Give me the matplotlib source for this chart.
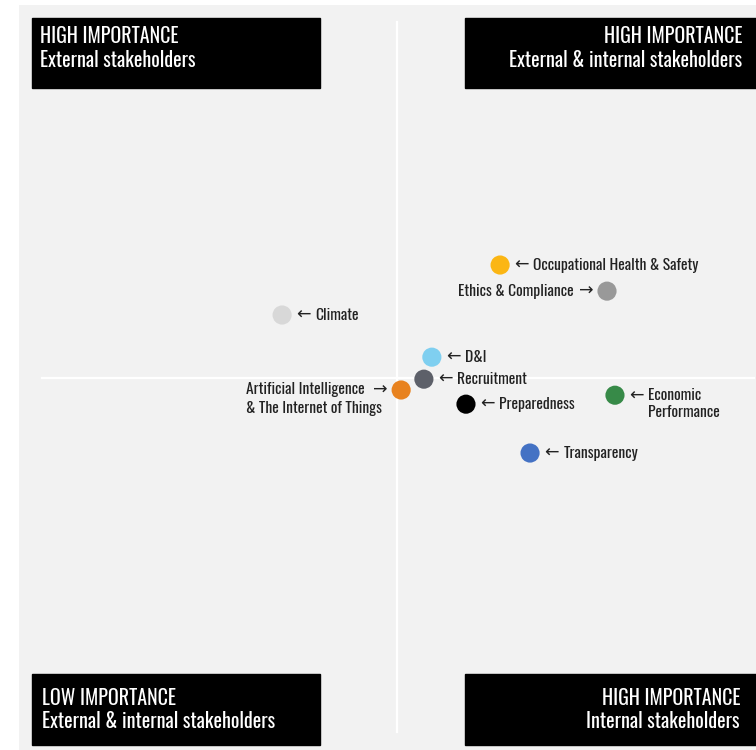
import matplotlib
matplotlib.use("Agg")
from matplotlib import pyplot as plt
from matplotlib.patches import Rectangle

plt.rcParams['font.family'] = ['Oswald', 'Barlow Condensed', 'DejaVu Sans']

# topic positions: x = internal importance, y = external importance (centre = 0)
topics = ["Occupational Health & Safety", "Ethics & Compliance", "Climate", "D&I",
          "Recruitment", "Artificial Intelligence\n& The Internet of Things",
          "Preparedness", "Economic\nPerformance", "Transparency"]
x_vals = [2.72, 5.54, -3.03, 0.92, 0.71, 0.11, 1.82, 5.75, 3.51]
y_vals = [3.03, 2.33, 1.69, 0.56, -0.03, -0.32, -0.70, -0.46, -2.01]
colors = ["#fbb614", "#999999", "#d8d8d8", "#7fcff0", "#5d6069", "#e8821f",
          "#000000", "#378a48", "#4472c4"]
label_left = [False, True, False, False, False, True, False, False, False]

quad_titles = ["HIGH IMPORTANCE", "HIGH IMPORTANCE", "LOW IMPORTANCE", "HIGH IMPORTANCE"]
quad_subs = ["External stakeholders", "External & internal stakeholders",
             "External & internal stakeholders", "Internal stakeholders"]

W, H = 756, 750
fig = plt.figure(figsize=(W / 100, H / 100), dpi=100)


def fx(px):
    return px / W


def fy(py):
    return 1 - py / H


ax = fig.add_axes([fx(19), fy(750), fx(756) - fx(19), fy(5) - fy(750)])
ax.set_facecolor("#f2f2f2")
ax.set_xlim(-9.97, 9.47)
ax.set_ylim(-9.97, 10)
for s in ax.spines.values():
    s.set_visible(False)
ax.set_xticks([])
ax.set_yticks([])

ax.plot([0, 0], [-9.49, 9.54], color="white", lw=1.6, zorder=1)
ax.plot([-9.37, 9.42], [0, 0], color="white", lw=1.6, zorder=1)

ax.scatter(x_vals, y_vals, s=190, c=colors, zorder=3, linewidths=0)

fs = 11.2
tc = "#222222"
for name, x, y, left in zip(topics, x_vals, y_vals, label_left):
    two = "\n" in name
    if left:
        ax.annotate("\u2192", (x, y), xytext=(-9.5, 0), textcoords="offset points",
                    ha="right", va="center", fontsize=12.5, color=tc,
                    family="DejaVu Sans")
        if two:
            first, rest = name.split("\n", 1)
            ax.annotate(first, (x, y), xytext=(-26, 0), textcoords="offset points",
                        ha="right", va="center", fontsize=fs, color=tc)
            ax.annotate(rest, (x, y), xytext=(-14, -13), textcoords="offset points",
                        ha="right", va="center", fontsize=fs, color=tc)
        else:
            ax.annotate(name, (x, y), xytext=(-24, 0), textcoords="offset points",
                        ha="right", va="center", fontsize=fs, color=tc)
    else:
        ax.annotate("\u2190", (x, y), xytext=(10, 0), textcoords="offset points",
                    ha="left", va="center", fontsize=12.5, color=tc,
                    family="DejaVu Sans")
        ax.annotate(name, (x, y), xytext=(24, -6.5 if two else 0),
                    textcoords="offset points", ha="left", va="center",
                    fontsize=fs, color=tc, linespacing=1.2)

# corner boxes: (left, top, right, bottom, align, title y, subtitle y, text x)
boxes = [(32, 18, 320, 88, "left", 36, 60, 40),
         (465, 18, 756, 88, "right", 36, 60, 742),
         (32, 674, 320, 745, "left", 698, 721, 42),
         (465, 674, 756, 745, "right", 698, 721, 740)]
for (x0, y0, x1, y1, al, ty, sy, tx), t, sub in zip(boxes, quad_titles, quad_subs):
    fig.patches.append(Rectangle((fx(x0), fy(y1)), fx(x1) - fx(x0), fy(y0) - fy(y1),
                                 transform=fig.transFigure, color="black", zorder=5))
    fig.text(fx(tx), fy(ty), t, ha=al, va="center", color="white",
             fontsize=14.4, fontweight="light", zorder=6)
    fig.text(fx(tx), fy(sy), sub, ha=al, va="center", color="white",
             fontsize=14.4, fontweight="light", zorder=6)

fig.savefig("out.png", dpi=100)
